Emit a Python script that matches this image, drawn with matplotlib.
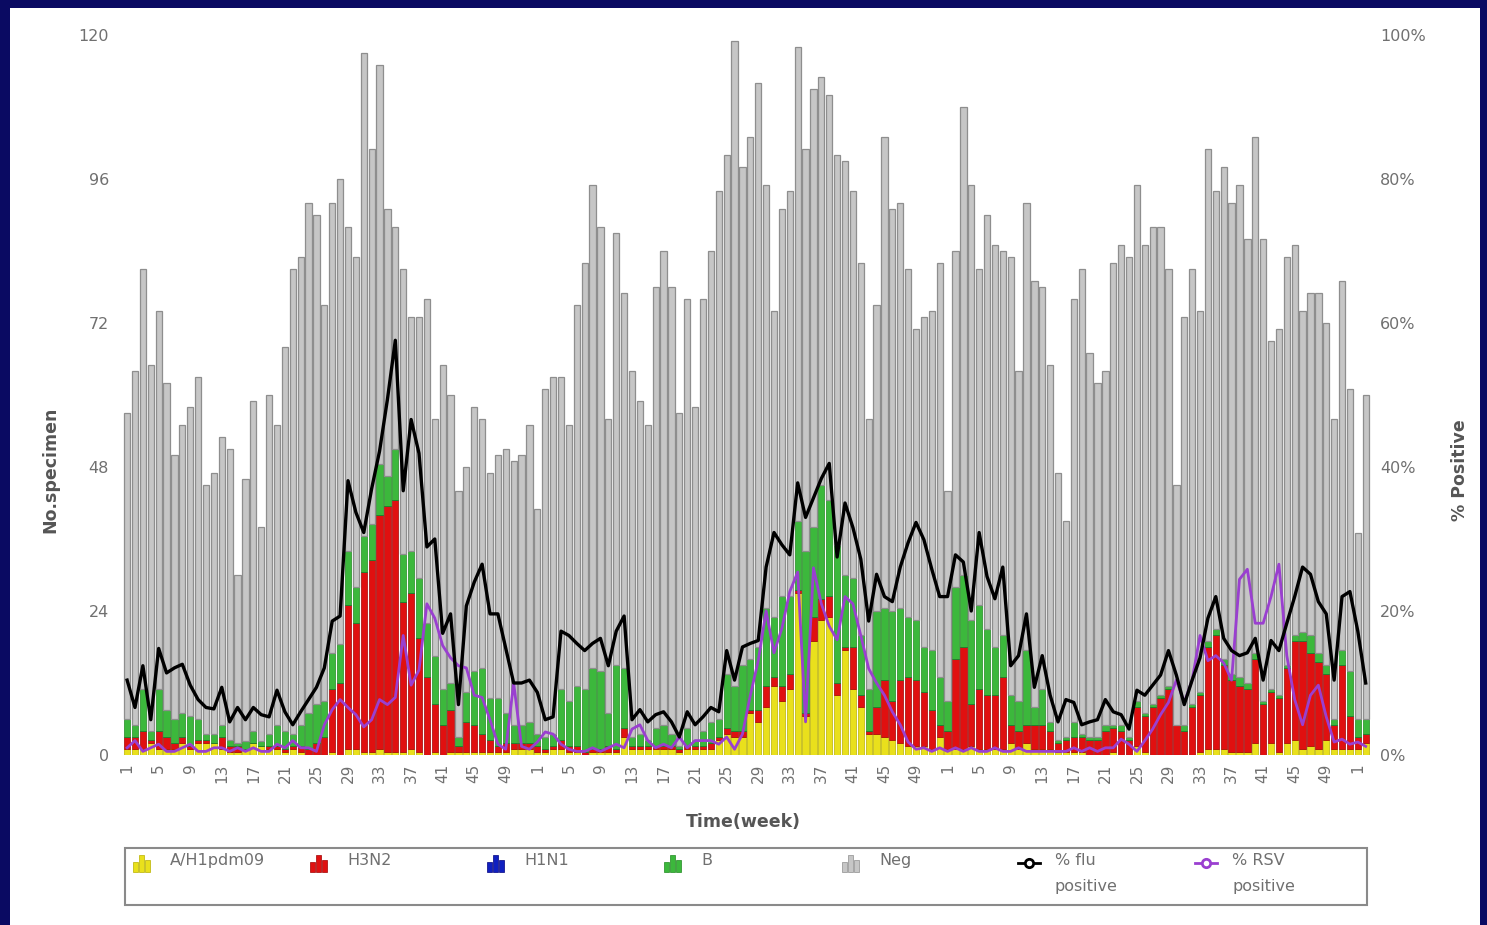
import matplotlib
matplotlib.use('Agg')
import matplotlib.pyplot as plt
from matplotlib.patches import Rectangle
from matplotlib.lines import Line2D
import numpy as np

# ---------------- data ----------------
week_labels = [str(w) for w in range(1, 53)] * 3 + ['1', '2']

total = [57, 64, 81, 65, 74, 62, 50, 55, 58, 63, 45, 47, 53, 51, 30, 46, 59, 38, 60, 55,
         68, 81, 83, 92, 90, 75, 92, 96, 88, 83, 117, 101, 115, 91, 88, 81, 73, 73, 76,
         56, 65, 60, 44, 48, 58, 56, 47, 50, 51, 49, 50, 55, 41, 61, 63, 63, 55, 75, 82,
         95, 88, 56, 87, 77, 64, 59, 55, 78, 84, 78, 57, 76, 58, 76, 84, 94, 100, 119, 98,
         103, 112, 95, 74, 91, 94, 118, 101, 111, 113, 110, 100, 99, 94, 82, 56, 75, 103, 91,
         92, 81, 71, 73, 74, 82, 44, 84, 108, 95, 81, 90, 85, 84, 83, 64, 92, 79, 78, 65,
         47, 39, 76, 81, 67, 62, 64, 82, 85, 83, 95, 85, 88, 88, 81, 45, 73, 81, 74, 101,
         94, 98, 92, 95, 86, 103, 86, 69, 71, 83, 85, 74, 77, 77, 72, 56, 79, 61, 37, 60]

h1pdm09 = [1, 1, 1, 2, 1, 1, 1, 2, 1, 2, 2, 2, 1, 0.5, 0.5, 1, 2, 1.5, 1, 1,
           0.5, 1, 0.5, 0, 0, 0, 0.5, 0, 1, 1, 0.5, 0.5, 1, 0.5, 0.5, 0.5, 1, 0.5, 0,
           0.5, 0, 0.5, 0.5, 0.5, 0.5, 0.5, 0.5, 0.5, 0.5, 1, 1, 1, 0.5, 0.5, 1, 1, 0.5, 0.5, 0,
           0.5, 0.5, 0.5, 0.5, 3, 1, 1, 1, 1, 1, 1, 0.5, 1, 1, 1, 1, 2.5, 3.5, 3, 3,
           7, 5.5, 8, 11.5, 9, 11, 27, 6.5, 19, 22.5, 23, 10, 17.5, 11, 8, 3.5, 3.5, 3, 2.5,
           2, 1.5, 1.5, 1.5, 1, 3, 1, 1, 1, 1.5, 1, 1, 1, 1, 2, 1, 2, 1, 1, 1,
           0.5, 0.5, 0.5, 0.5, 0, 0, 0, 0.5, 0, 0, 1.5, 0.5, 0, 0, 0, 0, 0, 0, 0.5, 1,
           1, 1, 0.5, 0.5, 0.5, 2, 0, 2, 0.5, 2, 2.5, 1, 1.5, 1, 2.5, 1, 1, 1, 1, 2]

h3n2 = [2, 2, 3, 0.5, 3, 2, 1, 1, 0.5, 0.5, 0.5, 0, 2, 1, 1, 0, 0, 0, 0.5, 0.5,
        0.5, 0.5, 1, 1, 2, 3, 10.5, 12, 24, 21, 30, 32, 39, 41, 42, 25, 26, 19, 13,
        8, 5, 7, 1, 5, 4.5, 3, 2, 1, 1.5, 1, 1, 1, 1, 0.5, 0.5, 1.5, 1, 1, 0.5,
        0.5, 0.5, 1, 0.5, 1.5, 0.5, 0.5, 0.5, 0.5, 0.5, 0.5, 0.5, 0.5, 0.5, 0.5, 1, 0.5, 1, 1, 1,
        0.5, 2, 3.5, 1.5, 2.5, 2.5, 0.5, 0.5, 4, 3.5, 3.5, 2, 0.5, 7, 2, 0.5, 4.5, 9.5, 6.5,
        10.5, 11.5, 11, 9, 6.5, 2, 3, 15, 17, 7, 10, 9, 9, 12, 3, 3, 3, 4, 4, 3,
        1.5, 2, 2.5, 2.5, 2.5, 2.5, 4, 4, 4, 2.5, 6.5, 6, 8, 9.5, 11, 5, 4, 8, 9.5, 17,
        19, 14, 12, 11, 10.5, 14, 8.5, 8.5, 9, 12.5, 16.5, 18, 15.5, 14.5, 11, 4, 14, 5.5, 2, 1.5]

h1n1 = [0] * 158  # no H1N1 bars visible

flu_b = [3, 2, 7, 1.5, 7, 4.5, 4, 4, 5, 3.5, 1, 1.5, 2, 1, 0.5, 1.3, 2, 0.8, 2, 3.5,
         3, 2, 3.5, 6, 6.5, 6, 6, 6.5, 9, 6, 6, 6, 8.5, 5, 8.5, 8, 7, 10, 9,
         8, 6, 4.5, 1.5, 5, 9, 11, 7, 8, 5, 3, 3, 3.5, 2, 2, 2, 8.5, 7.5, 10, 10.5,
         13.5, 13, 5.5, 14, 10, 1.5, 2, 1, 3, 3.5, 2, 0.5, 3, 1, 2.5, 3.5, 3, 9, 7.5, 11,
         8.5, 10.5, 13, 10, 15, 13, 11.5, 27, 15, 19, 16, 23, 12, 11.5, 10, 7, 16, 12, 15,
         12, 10, 10, 7.5, 10, 8, 5, 12, 12, 14, 14, 11, 8, 7, 5, 5, 12.5, 3, 6, 1.5,
         0.5, 0.5, 2.5, 0.5, 0.5, 0.5, 1, 0.5, 1, 0.5, 1, 0.5, 0.5, 0.5, 0.5, 0, 1, 0.5, 0.5, 1,
         1, 1, 1, 1.5, 1, 1, 0.5, 0.5, 0.5, 0.5, 1, 1.5, 3, 1.5, 1.5, 1, 2.5, 7.5, 3, 2.5]

flu_pct = [10.4, 6.6, 12.4, 4.9, 14.8, 11.4, 12.1, 12.6, 9.7, 7.7, 6.6, 6.4, 9.4, 4.6, 6.6, 4.9, 6.6, 5.6, 5.3, 9,
           6, 4.2, 6, 7.7, 9.4, 12.1, 18.6, 19.3, 38.1, 33.7, 30.9, 37, 42.2, 49.4, 57.6, 36.7, 46.6, 41.9, 28.9,
           30, 16.9, 19.6, 7, 20.7, 24, 26.5, 19.6, 19.6, 14.8, 10, 10, 10.4, 8.7, 4.9, 5.3, 17.2, 16.6, 15.5, 14.5,
           15.5, 16.2, 12.4, 17.2, 19.3, 4.9, 6.3, 4.6, 5.6, 6, 4.6, 2.5, 6, 4.2, 5.3, 6.6, 6, 14.5, 10.4, 15,
           15.5, 15.9, 26.1, 30.9, 29.2, 27.8, 37.8, 33, 35.7, 38.4, 40.5, 27.5, 35, 31.6, 27.2, 18.6, 25.1, 22, 21.3,
           26.1, 29.5, 32.3, 29.9, 25.8, 22, 22, 27.8, 26.8, 20, 30.9, 24.8, 21.7, 26.1, 12.4, 13.8, 19.6, 9.4, 13.8, 8.3,
           4.6, 7.7, 7.3, 4.2, 4.6, 4.9, 7.7, 6, 5.6, 3.6, 9, 8.3, 9.7, 11.1, 14.5, 11.1, 7, 10.4, 13.5, 19,
           22, 16.2, 14.5, 13.8, 14.2, 16.2, 10.4, 15.9, 14.5, 18.3, 22, 26.1, 25.1, 21.3, 19.6, 10.4, 22, 22.7, 17.2, 10]

rsv_pct = [1, 2, 0.5, 1, 1.5, 0.5, 0.5, 1, 1.5, 0.5, 0.5, 1, 1, 0.5, 1, 0.5, 1, 0.5, 0.5, 1.5, 1, 2, 1, 1, 0.5,
           4.2, 6.3, 7.7, 6.6, 5.6, 3.9, 4.9, 7.7, 7, 8, 16.6, 9.7, 11.8, 21,
           19, 15.2, 13.5, 12.4, 12.1, 8.3, 8, 4.9, 1.5, 0.8, 10, 1.2, 0.8, 1.8, 3.2, 2.9, 1.5, 0.8, 0.5,
           0.5, 1, 0.5, 1, 1.5, 1, 3.6, 4.2, 2, 1, 1.5, 1, 2.5, 1, 2, 2, 2, 1.5, 2.5, 0.8, 2.9,
           8.3, 13.1, 20, 14.2, 17.6, 22.7, 25.4, 4.6, 26, 21, 17.9, 16, 22, 21, 16.6, 12, 10, 8.3, 6,
           4.2, 1.8, 0.8, 1, 0.5, 1, 0.5, 1, 0.5, 1, 0.5, 0.5, 1, 0.5, 0.5, 1, 0.5, 0.5, 0.5, 0.5,
           0.5, 0.5, 1, 0.5, 1, 0.5, 1, 1,
           2.2, 1.5, 0.5, 2, 3.6, 5.6, 7.3, 10.4, 7.3, 10.4,
           16.6, 13.1, 13.8, 12.8, 10.4, 24.4, 25.8, 18.3, 18.3, 22, 26.5, 13.8, 7.7, 4.2, 8.3, 9.7, 5.3, 1.8, 2.2, 1.5, 1.8, 1.2]

legend_labels = ['A/H1pdm09', 'H3N2', 'H1N1', 'B', 'Neg', '% flu\npositive', '% RSV\npositive']

# ---------------- colours ----------------
C_Y, C_YE = '#e9e01c', '#b9b000'
C_R, C_RE = '#e01010', '#a00000'
C_BL, C_BLE = '#1020c0', '#000080'
C_G, C_GE = '#3cb83c', '#1f8a1f'
C_N, C_NE = '#c6c6c6', '#8e8e8e'
C_FLU = '#000000'
C_RSV = '#9a3fd0'
TXT = '#707070'

W, H = 1487, 925
fig = plt.figure(figsize=(W / 100, H / 100), dpi=100)
fig.patch.set_facecolor('#0a0a62')
fig.add_artist(Rectangle((10 / W, 0), (1480 - 10) / W, (H - 8) / H,
                         transform=fig.transFigure, facecolor='white', edgecolor='none', zorder=0))

def fx(px):
    return px / W

def fy(py):
    return 1 - py / H

ax = fig.add_axes([fx(120), fy(755), fx(1372) - fx(120), fy(35) - fy(755)])
ax.set_facecolor('none')

x = np.arange(len(total))
y = np.array(h1pdm09, float)
r = np.array(h3n2, float)
bl = np.array(h1n1, float)
g = np.array(flu_b, float)
tot = np.array(total, float)
neg = np.clip(tot - (y + r + bl + g), 0, None)

bw = 0.8
ax.bar(x, y, width=bw, color=C_Y, edgecolor=C_YE, linewidth=0.5, zorder=2)
ax.bar(x, r, width=bw, bottom=y, color=C_R, edgecolor=C_RE, linewidth=0.5, zorder=2)
ax.bar(x, bl, width=bw, bottom=y + r, color=C_BL, edgecolor=C_BLE, linewidth=0.5, zorder=2)
ax.bar(x, g, width=bw, bottom=y + r + bl, color=C_G, edgecolor=C_GE, linewidth=0.5, zorder=2)
ax.bar(x, neg, width=bw, bottom=y + r + bl + g, color=C_N, edgecolor=C_NE, linewidth=0.9, zorder=2)

ax.set_xlim(-0.9, 157.8)
ax.set_ylim(0, 120)
ax.set_yticks([0, 24, 48, 72, 96, 120])
ticks = list(range(0, len(total), 4))
ax.set_xticks(ticks)
ax.set_xticklabels([week_labels[i] for i in ticks], rotation=90, va='top', ha='center')
for s in ax.spines.values():
    s.set_visible(False)
ax.tick_params(axis='both', length=0, colors=TXT, labelsize=11.5)
ax.tick_params(axis='y', pad=8)
ax.tick_params(axis='x', pad=6, labelsize=11)

ax2 = ax.twinx()
ax2.set_ylim(0, 100)
ax2.set_yticks([0, 20, 40, 60, 80, 100])
ax2.set_yticklabels([f'{v}%' for v in [0, 20, 40, 60, 80, 100]])
for s in ax2.spines.values():
    s.set_visible(False)
ax2.tick_params(axis='y', length=0, colors=TXT, labelsize=11.5, pad=6)
ax2.plot(x, rsv_pct, color=C_RSV, linewidth=2.0, zorder=3)
ax2.plot(x, flu_pct, color=C_FLU, linewidth=2.4, zorder=4)

fig.text(fx(50), fy(470), 'No.specimen', rotation=90, ha='center', va='center',
         fontsize=12.5, fontweight='bold', color='#555555')
fig.text(fx(1460), fy(470), '% Positive', rotation=90, ha='center', va='center',
         fontsize=12.5, fontweight='bold', color='#555555')
fig.text(fx(743), fy(822), 'Time(week)', ha='center', va='center',
         fontsize=12.5, fontweight='bold', color='#555555')

# ---------------- legend ----------------
fig.add_artist(Rectangle((fx(125), fy(905)), fx(1367) - fx(125), fy(848) - fy(905),
                         transform=fig.transFigure, facecolor='white', edgecolor='#8a8a8a',
                         linewidth=1.5, zorder=5))

def bar_icon(px, color, ecolor):
    heights = [10, 17, 12]
    for k, hgt in enumerate(heights):
        x0 = px + k * 6
        fig.add_artist(Rectangle((fx(x0), fy(872)), 4.5 / W, hgt / H,
                                 transform=fig.transFigure, facecolor=color,
                                 edgecolor=ecolor, linewidth=0.5, zorder=6))

def line_icon(px, color):
    fig.add_artist(Line2D([fx(px), fx(px + 22)], [fy(863), fy(863)], transform=fig.transFigure,
                          color=color, linewidth=2, marker=None, zorder=6))
    fig.add_artist(Line2D([fx(px + 11)], [fy(863)], transform=fig.transFigure, color=color,
                          marker='o', markersize=6, markerfacecolor='white', markeredgewidth=2,
                          linestyle='none', zorder=7))

items = [(133, 'bar', C_Y, C_YE), (310, 'bar', C_R, C_RE), (487, 'bar', C_BL, C_BLE),
         (664, 'bar', C_G, C_GE), (842, 'bar', C_N, C_NE), (1018, 'line', C_FLU, None),
         (1195, 'line', C_RSV, None)]
for (px, kind, col, ecol), lab in zip(items, legend_labels):
    if kind == 'bar':
        bar_icon(px, col, ecol)
    else:
        line_icon(px, col)
    fig.text(fx(px + 37), fy(853), lab, ha='left', va='top', fontsize=11.5,
             color=TXT, linespacing=1.9, zorder=8)

fig.savefig('out.png', dpi=100, facecolor=fig.get_facecolor())
